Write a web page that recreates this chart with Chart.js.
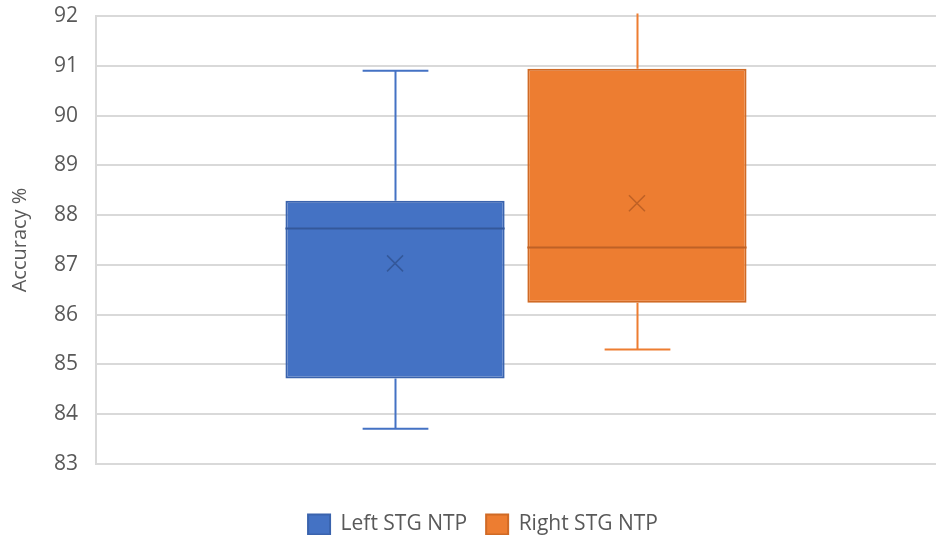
<!DOCTYPE html>
<html>
<head>
<meta charset="utf-8">
<script src="https://cdn.jsdelivr.net/npm/chart.js@4.4.1/dist/chart.umd.min.js"></script>
<style>
  html, body { margin: 0; padding: 0; background: #fff; }
  #caixa { width: 936px; height: 535px; }
</style>
</head>
<body>
<div id="caixa"><canvas id="grafico1"></canvas></div>
<script>
// dados (Accuracy %)
const categorias = [""];
const series = ["Left STG NTP", "Right STG NTP"];
const minimos = [83.71, 85.30];
const q1s = [84.72, 86.24];
const medianas = [87.75, 87.35];
const q3s = [88.29, 90.94];
const maximos = [90.90, 92.05];
const medias = [87.03, 88.24];
const ticksY = [83, 84, 85, 86, 87, 88, 89, 90, 91, 92];

const cores = ["#4472C4", "#ED7D31"];
const bordas = ["#3A63AD", "#D06A25"];
const marcas = ["#34589A", "#BE6126"];

// desenha bigodes, mediana e media usando as escalas do grafico
const caixaPlugin = {
    id: "caixaPlugin",
    afterLayout(chart) {
        // legenda um pouco deslocada para a direita como no original
        chart.legend.left += 15;
        chart.legend.right += 15;
    },
    beforeDatasetsDraw(chart) {
        const ctx = chart.ctx;
        const y = chart.scales.y;
        ctx.save();
        ctx.beginPath();
        ctx.rect(chart.chartArea.left, chart.chartArea.top - 4, chart.chartArea.right - chart.chartArea.left, chart.chartArea.bottom - chart.chartArea.top + 4);
        ctx.clip();
        chart.data.datasets.forEach((ds, i) => {
            const barra = chart.getDatasetMeta(i).data[0];
            const x = Math.round(barra.x) + 0.5;
            const capa = barra.width * 0.15;
            ctx.strokeStyle = cores[i];
            ctx.lineWidth = 2;
            ctx.beginPath();
            ctx.moveTo(x, y.getPixelForValue(maximos[i]));
            ctx.lineTo(x, y.getPixelForValue(q3s[i]));
            ctx.moveTo(x, y.getPixelForValue(q1s[i]));
            ctx.lineTo(x, y.getPixelForValue(minimos[i]));
            ctx.stroke();
            // capas
            ctx.beginPath();
            if (maximos[i] <= y.max) {
                ctx.moveTo(x - capa, y.getPixelForValue(maximos[i]));
                ctx.lineTo(x + capa, y.getPixelForValue(maximos[i]));
            }
            ctx.moveTo(x - capa, y.getPixelForValue(minimos[i]));
            ctx.lineTo(x + capa, y.getPixelForValue(minimos[i]));
            ctx.stroke();
        });
        ctx.restore();
    },
    afterDatasetsDraw(chart) {
        const ctx = chart.ctx;
        const y = chart.scales.y;
        ctx.save();
        chart.data.datasets.forEach((ds, i) => {
            const barra = chart.getDatasetMeta(i).data[0];
            const esq = barra.x - barra.width / 2;
            const dir = barra.x + barra.width / 2;
            // mediana
            const ym = Math.round(y.getPixelForValue(medianas[i])) + 0.5;
            ctx.strokeStyle = marcas[i];
            ctx.lineWidth = 2;
            ctx.beginPath();
            ctx.moveTo(esq, ym);
            ctx.lineTo(dir, ym);
            ctx.stroke();
            // media (X)
            const yx = y.getPixelForValue(medias[i]);
            const r = 8;
            ctx.lineWidth = 1.5;
            ctx.beginPath();
            ctx.moveTo(barra.x - r, yx - r);
            ctx.lineTo(barra.x + r, yx + r);
            ctx.moveTo(barra.x + r, yx - r);
            ctx.lineTo(barra.x - r, yx + r);
            ctx.stroke();
        });
        ctx.restore();
    }
};

const ctx = document.getElementById("grafico1").getContext("2d");

const grafico1 = new Chart(ctx, {
    type: "bar",
    data: {
        labels: categorias,
        datasets: series.map((nome, i) => ({
            label: nome,
            data: [[q1s[i], q3s[i]]],
            backgroundColor: cores[i],
            borderColor: bordas[i],
            borderWidth: 2,
            borderSkipped: false
        }))
    },
    options: {
        responsive: true,
        maintainAspectRatio: false,
        animation: false,
        categoryPercentage: 0.576,
        barPercentage: 0.906,
        layout: { padding: { top: 0, right: 0, left: 0, bottom: -10 } },
        plugins: {
            tooltip: { enabled: false },
            legend: {
                position: "bottom",
                labels: {
                    color: "#595959",
                    font: { family: "Open Sans", size: 21 },
                    boxWidth: 22,
                    boxHeight: 20,
                    padding: 19,
                    useBorderRadius: false
                }
            }
        },
        scales: {
            x: {
                ticks: { display: false },
                grid: { display: false },
                border: { display: false },
                afterFit: s => { s.height = 31; }
            },
            y: {
                min: 83,
                max: 92,
                afterBuildTicks: s => { s.ticks = ticksY.map(v => ({ value: v })); },
                afterFit: s => { s.width = 96; s.paddingTop = 16; },
                ticks: {
                    color: "#595959",
                    font: { family: "Open Sans", size: 21 },
                    padding: 18
                },
                grid: { color: "#d9d9d9", lineWidth: 2, drawTicks: false },
                border: { display: true, color: "#d9d9d9", width: 2 },
                title: {
                    display: true,
                    text: "Accuracy %",
                    color: "#595959",
                    font: { family: "Open Sans", size: 20 },
                    padding: { top: 8, bottom: 0 }
                }
            }
        }
    },
    plugins: [caixaPlugin]
});
</script>
</body>
</html>
